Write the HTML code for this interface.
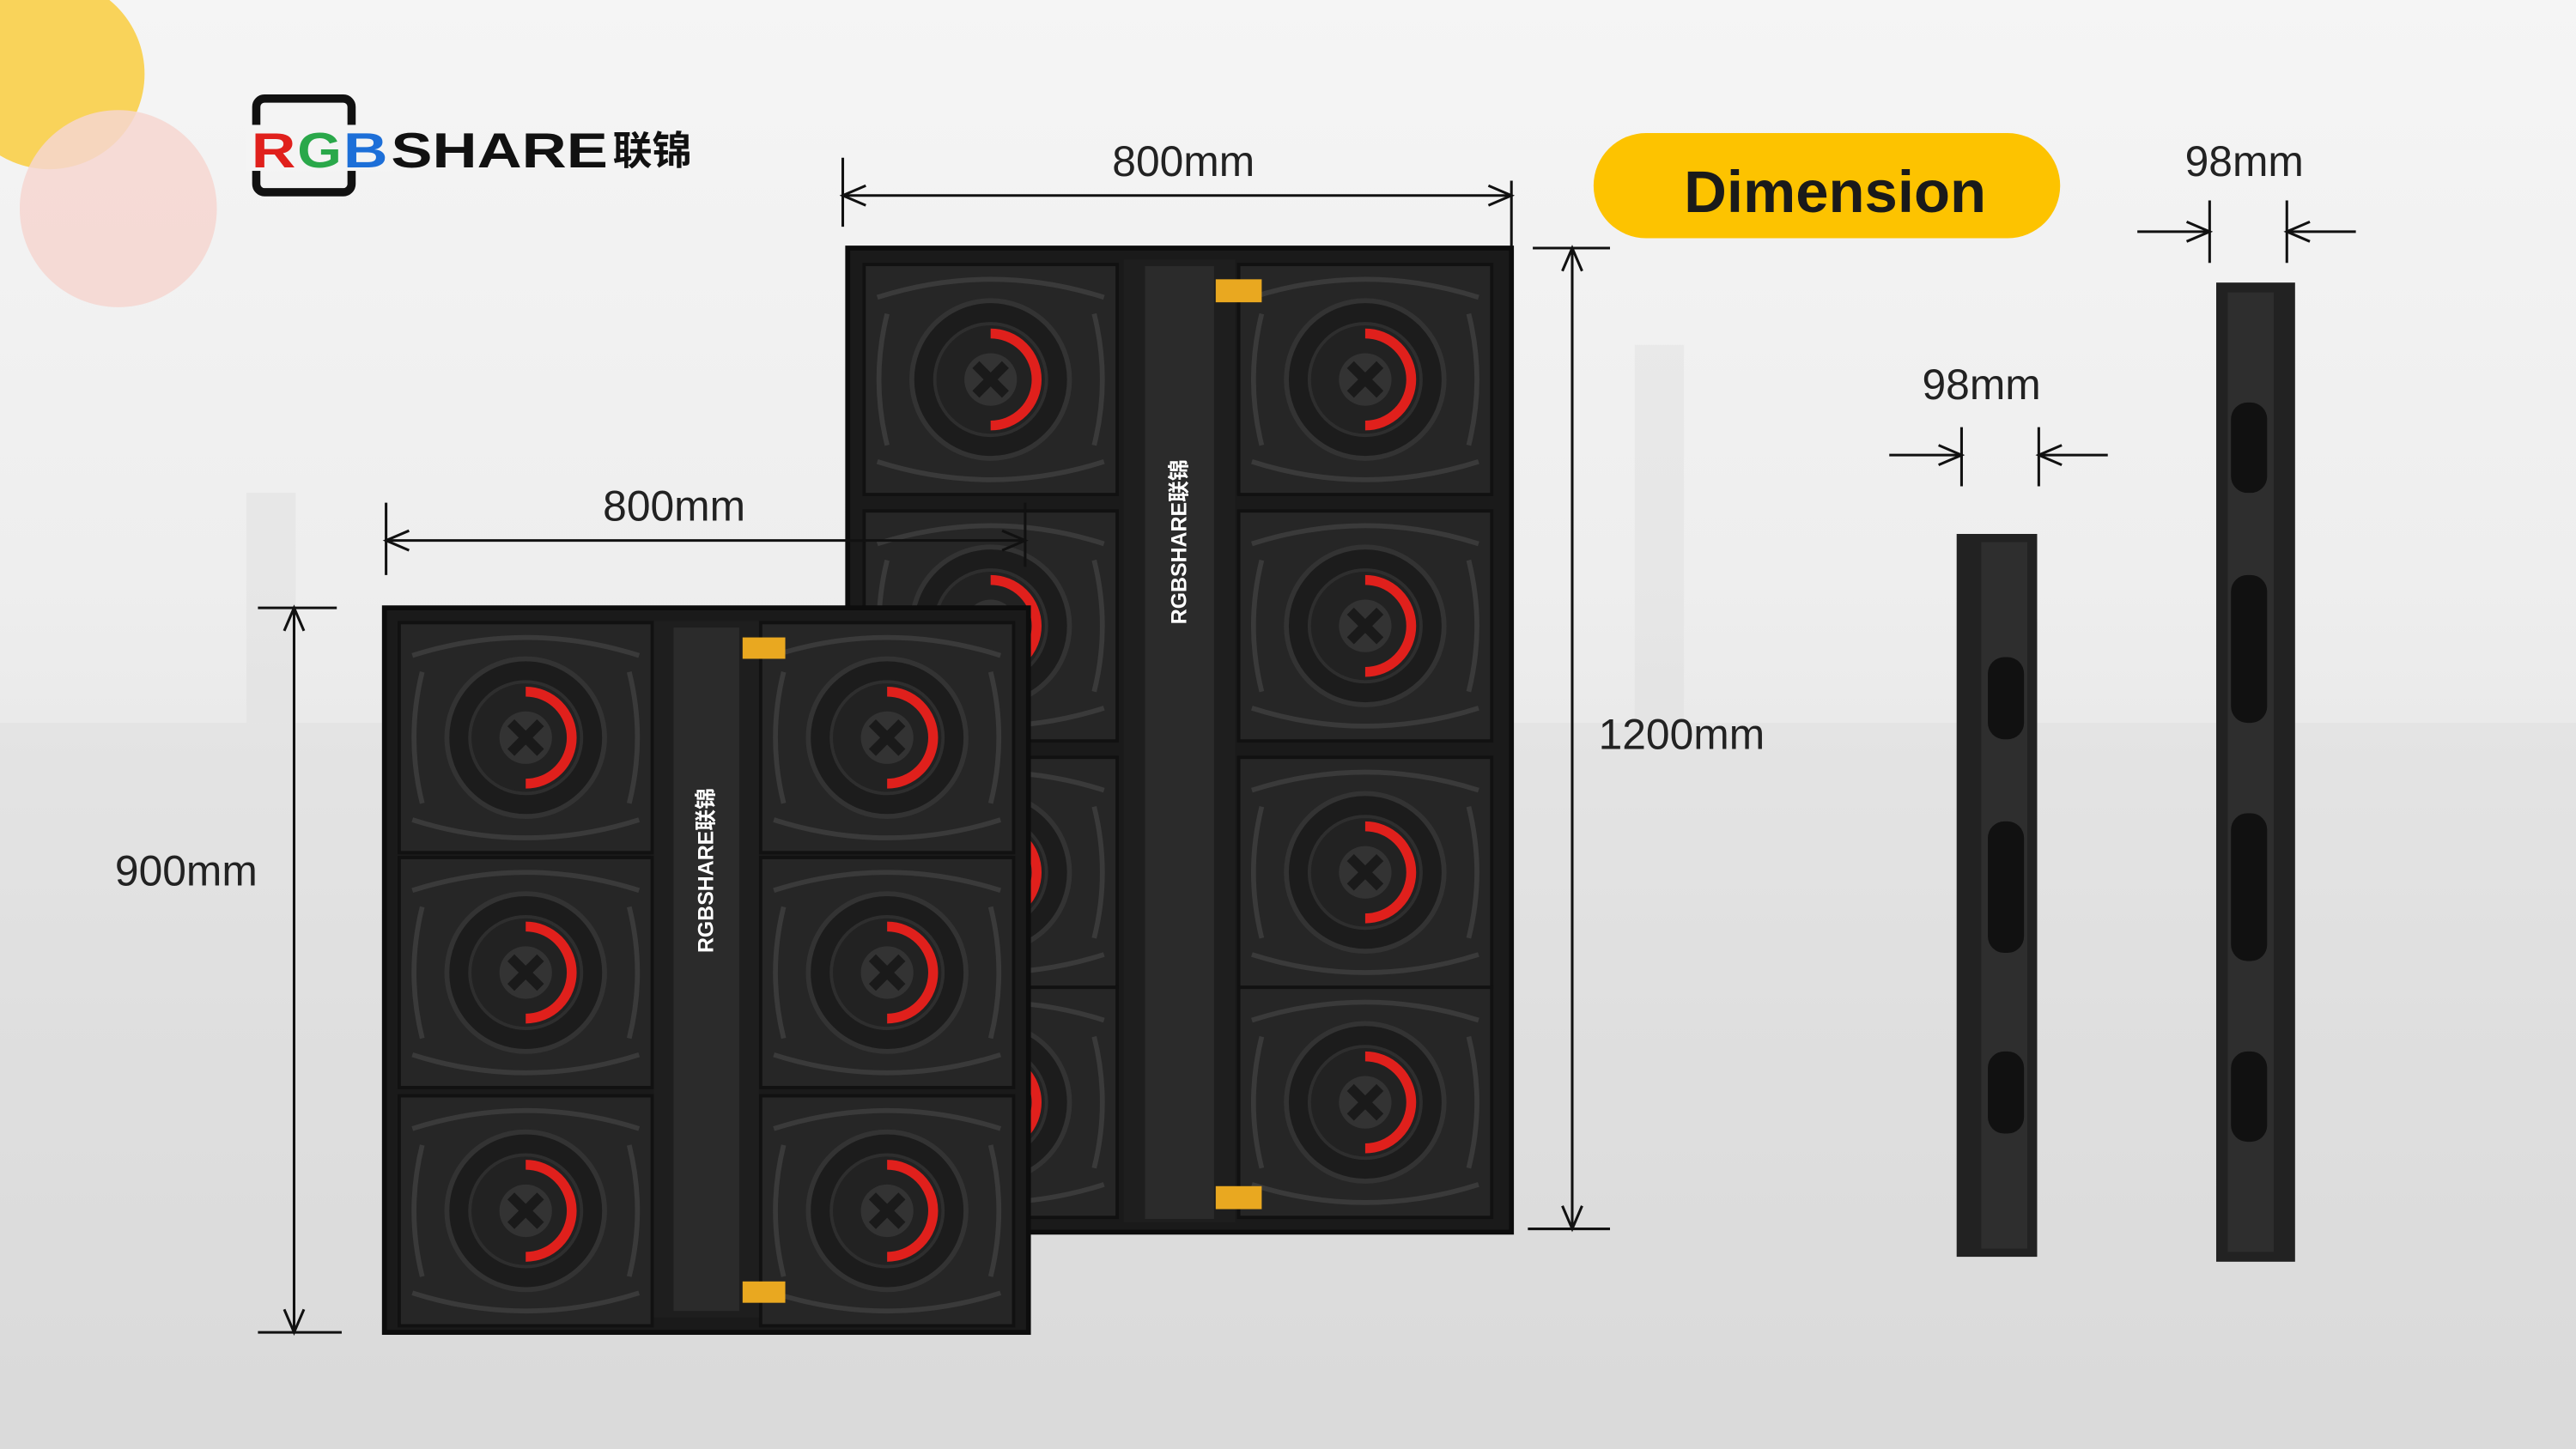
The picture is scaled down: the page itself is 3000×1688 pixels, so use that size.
<!DOCTYPE html>
<html><head><meta charset="utf-8"><style>
html,body{margin:0;padding:0;width:3000px;height:1688px;overflow:hidden;background:#eee}
svg{display:block}
text{font-family:"Liberation Sans","Noto Sans CJK SC",sans-serif}
</style></head><body>
<svg width="3000" height="1688" viewBox="0 0 1568 882" preserveAspectRatio="none" xmlns="http://www.w3.org/2000/svg">
<defs>
<linearGradient id="bg" x1="0" y1="0" x2="0" y2="1">
<stop offset="0" stop-color="#f5f5f5"/><stop offset="0.4" stop-color="#eeeeee"/><stop offset="0.7" stop-color="#e2e2e2"/><stop offset="1" stop-color="#dadada"/>
</linearGradient>
<g id="mod">
<rect x="0" y="0" width="154" height="140" fill="#262626" stroke="#111" stroke-width="2"/>
<path d="M8 20 Q77 -2 146 20 M8 120 Q77 142 146 120 M14 30 Q4 70 14 110 M140 30 Q150 70 140 110" fill="none" stroke="#3a3a3a" stroke-width="3"/>
<circle cx="77" cy="70" r="48" fill="#1c1c1c" stroke="#333" stroke-width="3"/>
<circle cx="77" cy="70" r="34" fill="#222" stroke="#2e2e2e" stroke-width="2"/>
<path d="M77 42 A28 28 0 1 1 77 98" fill="none" stroke="#e0201c" stroke-width="6"/>
<circle cx="77" cy="70" r="16" fill="#333"/>
<path d="M68 61 L86 79 M86 61 L68 79" stroke="#1a1a1a" stroke-width="6"/>
</g>
</defs>
<rect width="1568" height="882" fill="url(#bg)"/>
<g fill="#d9d9d9" opacity="0.35">
<rect x="0" y="440" width="1568" height="442"/>
<rect x="150" y="300" width="30" height="140"/><rect x="995" y="210" width="30" height="230"/>
</g>
<circle cx="30" cy="45" r="58" fill="#f9d35a"/>
<circle cx="72" cy="127" r="60" fill="#f6d6d0" opacity="0.85"/>
<!-- logo -->
<rect x="156" y="60" width="58" height="57" rx="5" fill="none" stroke="#111" stroke-width="5"/>
<rect x="150" y="76" width="90" height="28" fill="#f4f4f4"/>
<text x="153" y="102" font-size="30" font-weight="bold" fill="#e0201c" textLength="27" lengthAdjust="spacingAndGlyphs">R</text>
<text x="181" y="102" font-size="30" font-weight="bold" fill="#2aa84a" textLength="27" lengthAdjust="spacingAndGlyphs">G</text>
<text x="209" y="102" font-size="30" font-weight="bold" fill="#1d6fd8" textLength="27" lengthAdjust="spacingAndGlyphs">B</text>
<text x="238" y="102" font-size="30" font-weight="bold" fill="#111" textLength="132" lengthAdjust="spacingAndGlyphs">SHARE</text>
<text x="373" y="100" font-size="24" font-weight="bold" fill="#111">联锦</text>
<!-- large panel -->
<rect x="516" y="151" width="404" height="599" fill="#1a1a1a" stroke="#0d0d0d" stroke-width="3"/>
<use href="#mod" x="526" y="161"/>
<use href="#mod" x="526" y="311"/><use href="#mod" x="526" y="461"/><use href="#mod" x="526" y="601"/>
<use href="#mod" x="754" y="161"/><use href="#mod" x="754" y="311"/><use href="#mod" x="754" y="461"/><use href="#mod" x="754" y="601"/>
<rect x="684" y="158" width="68" height="586" fill="#1e1e1e"/>
<rect x="697" y="162" width="42" height="580" fill="#2b2b2b"/>
<rect x="740" y="170" width="28" height="14" fill="#e9a820"/><rect x="740" y="722" width="28" height="14" fill="#e9a820"/>
<text transform="translate(722,380) rotate(-90)" font-size="13" font-weight="bold" fill="#fff">RGBSHARE联锦</text>
<!-- small panel -->
<rect x="234" y="370" width="392" height="441" fill="#1a1a1a" stroke="#0d0d0d" stroke-width="3"/>
<use href="#mod" x="243" y="379"/><use href="#mod" x="243" y="522"/><use href="#mod" x="243" y="667"/>
<use href="#mod" x="463" y="379"/><use href="#mod" x="463" y="522"/><use href="#mod" x="463" y="667"/>
<rect x="398" y="378" width="64" height="424" fill="#1e1e1e"/>
<rect x="410" y="382" width="40" height="416" fill="#2b2b2b"/>
<rect x="452" y="388" width="26" height="13" fill="#e9a820"/><rect x="452" y="780" width="26" height="13" fill="#e9a820"/>
<text transform="translate(434,580) rotate(-90)" font-size="13" font-weight="bold" fill="#fff">RGBSHARE联锦</text>
<!-- dims -->
<g stroke="#111" stroke-width="1.6" fill="none">
<line x1="513" y1="96" x2="513" y2="138"/><line x1="920" y1="110" x2="920" y2="150"/>
<line x1="513" y1="119" x2="920" y2="119"/>
<path d="M527 113 L513 119 L527 125 M906 113 L920 119 L906 125"/>
<line x1="235" y1="306" x2="235" y2="350"/><line x1="624" y1="306" x2="624" y2="345"/>
<line x1="235" y1="329" x2="624" y2="329"/>
<path d="M249 323 L235 329 L249 335 M610 323 L624 329 L610 335"/>
<line x1="933" y1="151" x2="980" y2="151"/><line x1="930" y1="748" x2="980" y2="748"/>
<line x1="957" y1="151" x2="957" y2="748"/>
<path d="M951 165 L957 151 L963 165 M951 734 L957 748 L963 734"/>
<line x1="157" y1="370" x2="205" y2="370"/><line x1="157" y1="811" x2="208" y2="811"/>
<line x1="179" y1="370" x2="179" y2="811"/>
<path d="M173 384 L179 370 L185 384 M173 797 L179 811 L185 797"/>
<line x1="1194" y1="260" x2="1194" y2="296"/><line x1="1241" y1="260" x2="1241" y2="296"/>
<line x1="1150" y1="277" x2="1194" y2="277"/><line x1="1241" y1="277" x2="1283" y2="277"/>
<path d="M1180 271 L1194 277 L1180 283 M1255 271 L1241 277 L1255 283"/>
<line x1="1345" y1="122" x2="1345" y2="160"/><line x1="1392" y1="122" x2="1392" y2="160"/>
<line x1="1301" y1="141" x2="1345" y2="141"/><line x1="1392" y1="141" x2="1434" y2="141"/>
<path d="M1331 135 L1345 141 L1331 147 M1406 135 L1392 141 L1406 147"/>
</g>
<g font-size="26" fill="#222">
<text x="677" y="107">800mm</text>
<text x="367" y="317">800mm</text>
<text x="973" y="456">1200mm</text>
<text x="70" y="539">900mm</text>
<text x="1170" y="243">98mm</text>
<text x="1330" y="107">98mm</text>
</g>
<rect x="970" y="81" width="284" height="64" rx="32" fill="#fdc300"/>
<text x="1117" y="129" font-size="36" font-weight="bold" fill="#1a1a1a" text-anchor="middle">Dimension</text>
<!-- side bars -->
<rect x="1191" y="325" width="49" height="440" fill="#222"/>
<rect x="1206" y="330" width="28" height="430" fill="#2e2e2e"/>
<rect x="1210" y="400" width="22" height="50" rx="10" fill="#111"/>
<rect x="1210" y="500" width="22" height="80" rx="10" fill="#111"/>
<rect x="1210" y="640" width="22" height="50" rx="10" fill="#111"/>
<rect x="1349" y="172" width="48" height="596" fill="#222"/>
<rect x="1356" y="178" width="28" height="584" fill="#2e2e2e"/>
<rect x="1358" y="245" width="22" height="55" rx="10" fill="#111"/>
<rect x="1358" y="350" width="22" height="90" rx="10" fill="#111"/>
<rect x="1358" y="495" width="22" height="90" rx="10" fill="#111"/>
<rect x="1358" y="640" width="22" height="55" rx="10" fill="#111"/>
</svg>
</body></html>
